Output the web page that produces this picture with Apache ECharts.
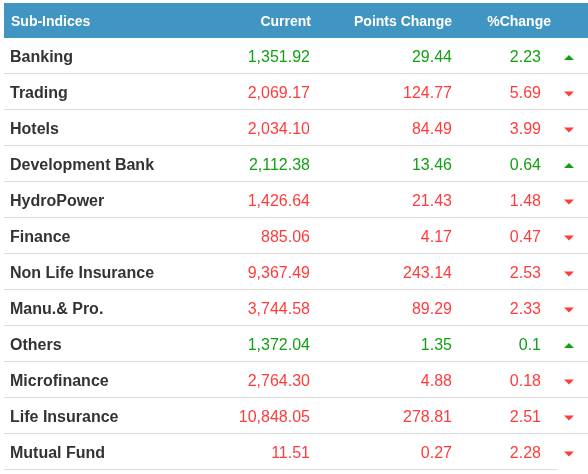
<!DOCTYPE html>
<html>
<head>
<meta charset="utf-8">
<script src="https://cdn.jsdelivr.net/npm/echarts@6/dist/echarts.min.js"></script>
<style>
  html, body { margin: 0; padding: 0; background: #fff; }
  #main { width: 588px; height: 474px; }
</style>
</head>
<body>
<div id="main"></div>
<script>
// 表格数据
var headers = ["Sub-Indices", "Current", "Points Change", "%Change"];
var names = ["Banking", "Trading", "Hotels", "Development Bank", "HydroPower", "Finance",
  "Non Life Insurance", "Manu.& Pro.", "Others", "Microfinance", "Life Insurance", "Mutual Fund"];
var current = [1351.92, 2069.17, 2034.10, 2112.38, 1426.64, 885.06,
  9367.49, 3744.58, 1372.04, 2764.30, 10848.05, 11.51];
var pointsChange = [29.44, 124.77, 84.49, 13.46, 21.43, 4.17,
  243.14, 89.29, 1.35, 4.88, 278.81, 0.27];
var pctChange = [2.23, 5.69, 3.99, 0.64, 1.48, 0.47,
  2.53, 2.33, 0.1, 0.18, 2.51, 2.28];
var trend = ["up", "down", "down", "up", "down", "down",
  "down", "down", "up", "down", "down", "down"];

var FONT = "Liberation Sans, Arial, sans-serif";
var GREEN = "#14a014";
var RED = "#ff3b3b";

function fmt(v) {
  var s = v.toFixed(2).split(".");
  s[0] = s[0].replace(/\B(?=(\d{3})+(?!\d))/g, ",");
  return s.join(".");
}

var myChart = echarts.init(document.getElementById("main"));

var option = {
  animation: false,
  grid: { left: 0, right: 0, top: 38, bottom: 4 },
  xAxis: { type: "value", min: 0, max: 588, show: false },
  yAxis: { type: "category", data: names, inverse: true, show: false },
  graphic: [
    { type: "rect", shape: { x: 4, y: 3, width: 584, height: 35 }, style: { fill: "#4195c3" } },
    { type: "text", x: 11, y: 22, style: { text: headers[0], fill: "#fff", font: "bold 14px " + FONT, textAlign: "left", textVerticalAlign: "middle" } },
    { type: "text", x: 311, y: 22, style: { text: headers[1], fill: "#fff", font: "bold 14px " + FONT, textAlign: "right", textVerticalAlign: "middle" } },
    { type: "text", x: 452, y: 22, style: { text: headers[2], fill: "#fff", font: "bold 14px " + FONT, textAlign: "right", textVerticalAlign: "middle" } },
    { type: "text", x: 551, y: 22, style: { text: headers[3], fill: "#fff", font: "bold 14px " + FONT, textAlign: "right", textVerticalAlign: "middle" } }
  ],
  series: [{
    type: "custom",
    data: names.map(function (n, i) { return [0, i]; }),
    encode: { x: 0, y: 1 },
    renderItem: function (params, api) {
      var i = api.value(1);
      var c = api.coord([0, i]);
      var h = api.size([0, 1])[1];
      var y = c[1];
      var ty = y + 2;
      var col = trend[i] === "up" ? GREEN : RED;
      var px = function (v) { return api.coord([v, i])[0]; };
      var ax = px(569);
      var arrow = trend[i] === "up"
        ? [[ax - 5, y + 4], [ax + 5, y + 4], [ax, y - 1]]
        : [[ax - 5, y - 0.5], [ax + 5, y - 0.5], [ax, y + 4.5]];
      var lineEnd = i === names.length - 1 ? px(557) : px(588);
      return {
        type: "group",
        children: [
          { type: "line", shape: { x1: px(4), y1: y + h / 2 - 0.5, x2: lineEnd, y2: y + h / 2 - 0.5 }, style: { stroke: "#dddddd", lineWidth: 1 } },
          { type: "text", x: px(10), y: ty, style: { text: names[i], fill: "#333", font: "bold 16px " + FONT, textAlign: "left", textVerticalAlign: "middle" } },
          { type: "text", x: px(310), y: ty, style: { text: fmt(current[i]), fill: col, font: "16px " + FONT, textAlign: "right", textVerticalAlign: "middle" } },
          { type: "text", x: px(452), y: ty, style: { text: fmt(pointsChange[i]), fill: col, font: "16px " + FONT, textAlign: "right", textVerticalAlign: "middle" } },
          { type: "text", x: px(541), y: ty, style: { text: String(pctChange[i]), fill: col, font: "16px " + FONT, textAlign: "right", textVerticalAlign: "middle" } },
          { type: "polygon", shape: { points: arrow }, style: { fill: col } }
        ]
      };
    }
  }]
};

myChart.setOption(option);
</script>
</body>
</html>
